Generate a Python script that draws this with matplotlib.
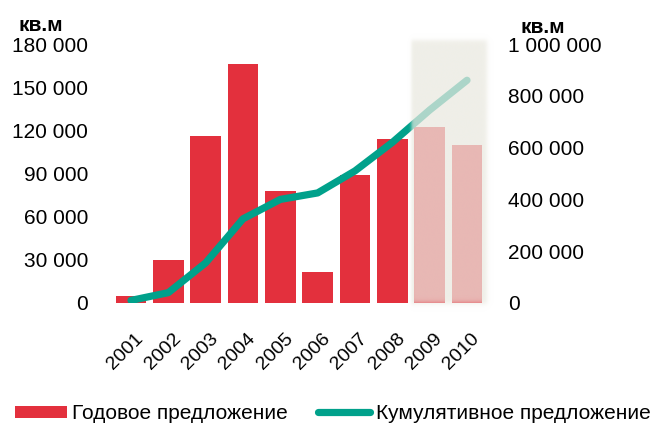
import numpy as np
import matplotlib
matplotlib.use('Agg')
import matplotlib.pyplot as plt
import matplotlib.transforms as mtransforms
from matplotlib.patches import Patch
from matplotlib.lines import Line2D

# ---- data ----
years = ['2001', '2002', '2003', '2004', '2005', '2006', '2007', '2008', '2009', '2010']
annual_supply = [5000, 30000, 116000, 166000, 78000, 21500, 89000, 114000, 122000, 110000]
cumulative_supply = [10000, 40000, 155000, 325000, 400000, 425000, 510000, 620000, 745000, 860000]
left_ticks = [0, 30000, 60000, 90000, 120000, 150000, 180000]
right_ticks = [0, 200000, 400000, 600000, 800000, 1000000]
forecast_years = ['2009', '2010']
unit_label = 'кв.м'
legend_labels = ['Годовое предложение', 'Кумулятивное предложение']

RED = '#e3303d'
TEAL = '#00a18b'
OVERLAY = (234 / 255, 233 / 255, 224 / 255)


def fmt(v):
    return f"{v:,}".replace(",", " ")


plt.rcParams['font.family'] = ['Liberation Sans', 'DejaVu Sans']

W, H = 657, 423
fig = plt.figure(figsize=(W / 100, H / 100), dpi=100)
ax_l, ax_r, ax_t, ax_b = 108.6, 489.4, 44, 303
ax = fig.add_axes([ax_l / W, (H - ax_b) / H, (ax_r - ax_l) / W, (ax_b - ax_t) / H])
ax2 = ax.twinx()

x = np.arange(len(years))
ax.bar(x, annual_supply, width=0.83, color=RED, zorder=2)
ax2.plot(x, cumulative_supply, color=TEAL, lw=5.2, solid_capstyle='round',
         solid_joinstyle='round', zorder=3)

xlim = (-0.6, len(years) - 0.4)
ylim_l = (0, max(left_ticks))
ylim_r = (0, max(right_ticks))

# ---- forecast overlay (soft-edged translucent panel) ----
f0 = years.index(forecast_years[0]) - 0.5
f1 = years.index(forecast_years[-1]) + 0.5
px_per_x = (ax_r - ax_l) / (xlim[1] - xlim[0])
px_per_y = (ax_b - ax_t) / (ylim_r[1] - ylim_r[0])
ex0, ex1 = f0 - 0.3, f1 + 0.3
ey0, ey1 = -0.06 * ylim_r[1], 1.06 * ylim_r[1]
nx = int((ex1 - ex0) * px_per_x * 4)
ny = int((ey1 - ey0) * px_per_y * 4)
gx = np.linspace(ex0, ex1, nx)
gy = np.linspace(ey1, ey0, ny)
GX, GY = np.meshgrid(gx, gy)
pxx = (GX - f0) * px_per_x            # px from left edge
pxr = (f1 - GX) * px_per_x            # px from right edge
pyb = GY * px_per_y                   # px above zero line
pyt = (ylim_r[1] - GY) * px_per_y     # px below top
sig = lambda t: 1 / (1 + np.exp(-t))
alpha = (0.74 * sig(pxx / 0.8) * sig((pxr + 0.5) / 1.3)
         * sig((pyb + 0.5) / 1.5) * sig((pyt + 3.5) / 1.3))
img = np.zeros((ny, nx, 4))
img[..., 0], img[..., 1], img[..., 2] = OVERLAY
img[..., 3] = alpha
ax2.imshow(img, extent=(ex0, ex1, ey0, ey1), aspect='auto', origin='upper',
           interpolation='bilinear', zorder=10, clip_on=False)

ax.set_xlim(*xlim)
ax.set_ylim(*ylim_l)
ax2.set_ylim(*ylim_r)
ax2.set_xlim(*xlim)

for a in (ax, ax2):
    for s in a.spines.values():
        s.set_visible(False)

ax.set_yticks(left_ticks)
ax.set_yticklabels([fmt(v) for v in left_ticks])
ax2.set_yticks(right_ticks)
ax2.set_yticklabels([fmt(v) for v in right_ticks])
ax.tick_params(axis='y', length=0, pad=14.8, labelsize=15)
ax2.tick_params(axis='y', length=0, pad=13.4, labelsize=15)

ax.set_xticks(x)
ax.set_xticklabels(years, rotation=45, ha='right', va='top', rotation_mode='anchor', fontsize=14)
ax.tick_params(axis='x', length=0, pad=19.5)
offset = mtransforms.ScaledTranslation(4 / 100, 0, fig.dpi_scale_trans)
for lab in ax.get_xticklabels():
    lab.set_transform(lab.get_transform() + offset)

fig.text(18 / W, (H - 31) / H, unit_label, fontsize=15, fontweight='bold', va='baseline', ha='left')
fig.text(521 / W, (H - 33) / H, unit_label, fontsize=15, fontweight='bold', va='baseline', ha='left')

handles = [Patch(facecolor=RED, edgecolor='none'),
           Line2D([0], [0], color=TEAL, lw=5.2, solid_capstyle='round')]
fig.legend(handles, legend_labels, loc='lower left', bbox_to_anchor=(15 / W, 0.0),
           ncol=2, frameon=False, fontsize=15, handlelength=2.5, handleheight=0.5,
           handletextpad=0.25, columnspacing=1.45, borderpad=0, borderaxespad=0)

fig.savefig('out.png', dpi=100)
